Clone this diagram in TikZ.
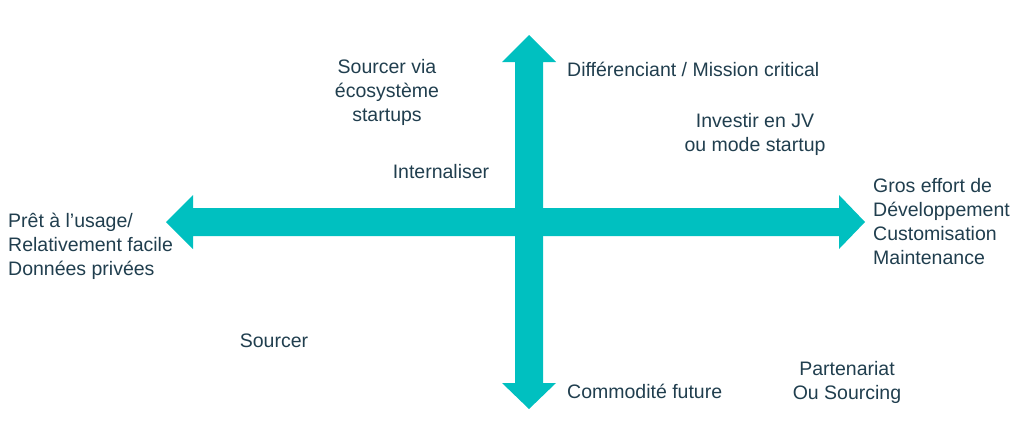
\documentclass[tikz,border=0pt]{standalone}
\usepackage{fontspec}
\setmainfont{Liberation Sans}
\definecolor{teal1}{RGB}{0,192,192}
\definecolor{txt}{RGB}{32,62,78}
\begin{document}
\begin{tikzpicture}[x=1pt,y=-1pt,
  lbl/.style={inner sep=0pt, text=txt, font=\fontsize{19.5}{24}\selectfont},
  axis/.style={fill=teal1, draw=none}]
\useasboundingbox (0,0) rectangle (1024,442);
% arrows
\fill[axis] (166,222) -- (193,195) -- (193,208) -- (839,208) -- (839,195) -- (865,222)
  -- (839,249) -- (839,236) -- (193,236) -- (193,249) -- cycle;
\fill[axis] (529,35) -- (556,62) -- (543,62) -- (543,383) -- (556,383) -- (529,409)
  -- (502,383) -- (515,383) -- (515,62) -- (502,62) -- cycle;
% labels
\node[lbl, anchor=west] (top) at (567,69) {Différenciant / Mission critical};
\node[lbl, align=center] (sev) at (387,92) {Sourcer via\\écosystème\\startups};
\node[lbl] (int) at (441,172) {Internaliser};
\node[lbl, align=center] (inv) at (755,134) {Investir en JV\\ou mode startup};
\node[lbl, anchor=west, align=left] (right) at (873,222) {Gros effort de\\Développement\\Customisation\\Maintenance};
\node[lbl, anchor=west, align=left] (left) at (8,246) {Prêt à l’usage/\\Relativement facile\\Données privées};
\node[lbl] (src) at (274,341) {Sourcer};
\node[lbl, anchor=west] (bot) at (567,391) {Commodité future};
\node[lbl, align=center] (part) at (847,382) {Partenariat\\Ou Sourcing};
\end{tikzpicture}
\end{document}
